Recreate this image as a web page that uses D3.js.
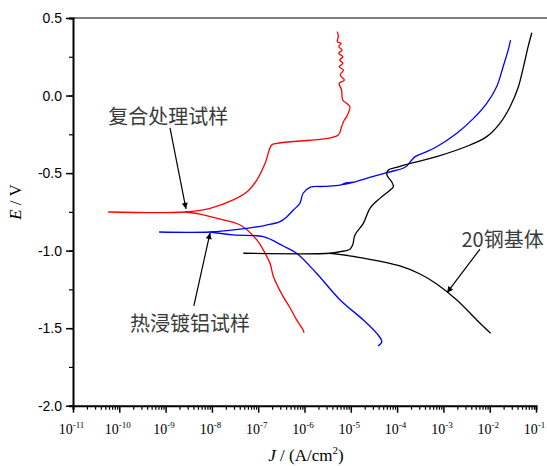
<!DOCTYPE html>
<html>
<head>
<meta charset="utf-8">
<script src="https://cdnjs.cloudflare.com/ajax/libs/d3/7.8.5/d3.min.js"></script>
<style>
body { margin: 0; background: #fff; }
</style>
</head>
<body>
<script>

//Curve data: [log10(J), E]  (J in A/cm2, E in V)
var redAnodic = [[-10.24,-0.751],[-8.58,-0.751],[-8.04,-0.727],[-7.54,-0.673],[-7.22,-0.615],[-7.03,-0.545],[-6.85,-0.437],[-6.71,-0.319],[-6.60,-0.308],[-6.10,-0.293],[-5.665,-0.283],[-5.27,-0.254],[-5.20,-0.201],[-5.14,-0.158],[-5.09,-0.136],[-5.02,-0.072],[-5.09,-0.050],[-5.175,-0.029],[-5.20,0.036],[-5.25,0.079],[-5.14,0.100],[-5.23,0.132],[-5.16,0.165],[-5.25,0.186],[-5.17,0.208],[-5.24,0.229],[-5.17,0.250],[-5.26,0.272],[-5.19,0.294],[-5.26,0.315],[-5.21,0.337],[-5.29,0.347],[-5.27,0.379],[-5.29,0.412]];
var redCathodic = [[-8.58,-0.751],[-8.26,-0.764],[-7.90,-0.791],[-7.39,-0.835],[-7.03,-0.931],[-6.85,-1.017],[-6.745,-1.082],[-6.67,-1.168],[-6.46,-1.297],[-6.31,-1.370],[-6.17,-1.447],[-6.03,-1.512],[-6.01,-1.529]];

var blueAnodic = [[-9.14,-0.880],[-8.04,-0.880],[-7.39,-0.862],[-6.82,-0.835],[-6.53,-0.813],[-6.38,-0.781],[-6.24,-0.738],[-6.10,-0.695],[-6.03,-0.630],[-5.88,-0.592],[-5.56,-0.586],[-5.23,-0.577],[-5.10,-0.564],[-4.95,-0.559],[-5.17,-0.574],[-4.90,-0.556],[-4.66,-0.534],[-4.22,-0.497],[-3.87,-0.469],[-3.79,-0.454],[-3.61,-0.394],[-3.36,-0.362],[-3.145,-0.330],[-2.71,-0.243],[-2.35,-0.147],[-2.065,-0.050],[-1.85,0.057],[-1.71,0.186],[-1.60,0.294],[-1.55,0.358]];
var blueCathodic = [[-8.04,-0.880],[-7.54,-0.899],[-6.89,-0.910],[-6.46,-0.970],[-6.17,-1.017],[-5.74,-1.146],[-5.23,-1.318],[-4.73,-1.447],[-4.44,-1.533],[-4.33,-1.587],[-4.41,-1.615]];

var blackAnodic = [[-7.32,-1.017],[-5.45,-1.017],[-5.23,-1.007],[-5.02,-0.991],[-4.96,-0.964],[-4.91,-0.899],[-4.73,-0.824],[-4.585,-0.727],[-4.37,-0.663],[-4.15,-0.609],[-4.08,-0.588],[-4.12,-0.555],[-4.22,-0.512],[-4.19,-0.480],[-4.01,-0.463],[-3.65,-0.433],[-3.145,-0.394],[-2.425,-0.319],[-2.065,-0.265],[-1.78,-0.179],[-1.56,-0.072],[-1.38,0.057],[-1.27,0.186],[-1.17,0.315],[-1.09,0.405]];
var blackCathodic = [[-5.45,-1.017],[-4.73,-1.048],[-3.94,-1.099],[-3.505,-1.151],[-3.145,-1.215],[-2.71,-1.318],[-2.28,-1.447],[-1.98,-1.533]];

var series = [
    { color: "#ff0000", parts: [redAnodic, redCathodic] },
    { color: "#0000ff", parts: [blueAnodic, blueCathodic] },
    { color: "#000000", parts: [blackAnodic, blackCathodic] }
];

//Annotations: label position (left, baseline) and arrow [from, to], in [log10(J), E]
var labels = ["复合处理试样", "热浸镀铝试样", "20钢基体"];
var labelPos = [[-10.24, -0.183], [-9.77, -1.518], [-2.61, -0.976]];
var arrowFrom = [[-8.905, -0.209], [-8.39, -1.357], [-2.21, -0.990]];
var arrowTo = [[-8.56, -0.731], [-8.04, -0.886], [-2.92, -1.271]];

//Axis ticks
var yTicks = [0.5, 0.0, -0.5, -1.0, -1.5, -2.0];
var xExponents = [-11, -10, -9, -8, -7, -6, -5, -4, -3, -2, -1];

//Width and height
var w = 547;
var h = 466;

var svg = d3.select("body")
            .append("svg")
            .attr("width", w)
            .attr("height", h);

//Scales
var x = d3.scaleLog()
            .domain([1e-11, 1e-1])
            .range([73, 536]);

var y = d3.scaleLinear()
            .domain([-2.0, 0.5])
            .range([405.7, 18]);

var px = function(d) { return x(Math.pow(10, d[0])); };
var py = function(d) { return y(d[1]); };

var line = d3.line()
            .x(px)
            .y(py)
            .curve(d3.curveCatmullRom.alpha(0.5));

//Top frame line
svg.append("line")
    .attr("x1", x.range()[0])
    .attr("x2", w)
    .attr("y1", y(0.5))
    .attr("y2", y(0.5))
    .style("stroke", "#555")
    .style("stroke-width", 1.3);

//Curves
series.forEach(function(s) {
    s.parts.forEach(function(p) {
        svg.append("path")
            .attr("d", line(p))
            .style("fill", "none")
            .style("stroke", s.color)
            .style("stroke-width", 1.3)
            .style("stroke-linejoin", "round");
    });
});

//Y axis, minor then major ticks
var minorY = d3.range(-2.0, 0.51, 0.25);
var yAxis = d3.axisLeft(y)
                .tickValues(minorY)
                .tickSize(4)
                .tickFormat("");
svg.append("g")
    .attr("transform", "translate(" + x.range()[0] + ",0)")
    .call(yAxis)
    .call(function(g) {
        g.select(".domain").style("stroke-width", 2);
        g.selectAll(".tick line").style("stroke-width", 1.2);
    });

var yMajor = d3.axisLeft(y)
                .tickValues(yTicks)
                .tickSize(7)
                .tickPadding(4)
                .tickFormat(function(d) { return d.toFixed(1); });
svg.append("g")
    .attr("transform", "translate(" + x.range()[0] + ",0)")
    .call(yMajor)
    .call(function(g) {
        g.select(".domain").remove();
        g.selectAll(".tick line").style("stroke-width", 1.5);
        g.selectAll("text")
            .style("font-family", "Liberation Sans, Arial, sans-serif")
            .style("font-size", "14px")
            .style("fill", "#000");
    });

//X axis minor ticks
var minorX = [];
xExponents.forEach(function(e) {
    if (e < -1) {
        for (var k = 2; k <= 9; k++) minorX.push(k * Math.pow(10, e));
    }
});
var xMinor = d3.axisBottom(x)
                .tickValues(minorX)
                .tickSize(4)
                .tickFormat("");
svg.append("g")
    .attr("transform", "translate(0," + y.range()[0] + ")")
    .call(xMinor)
    .call(function(g) {
        g.select(".domain").style("stroke-width", 2);
        g.selectAll(".tick line").style("stroke-width", 1.2);
    });

var xMajor = d3.axisBottom(x)
                .tickValues(xExponents.map(function(e) { return Math.pow(10, e); }))
                .tickSize(7)
                .tickFormat("");
var xg = svg.append("g")
    .attr("transform", "translate(0," + y.range()[0] + ")")
    .call(xMajor);
xg.select(".domain").remove();
xg.selectAll(".tick line").style("stroke-width", 1.5);

//X tick labels with superscript exponents
var xl = xg.selectAll(".tick")
    .append("text")
    .attr("y", 28)
    .attr("x", -2)
    .style("font-family", "Liberation Serif, Times New Roman, serif")
    .style("font-size", "14px")
    .style("fill", "#000")
    .attr("text-anchor", "middle");
xl.append("tspan").text("10");
xl.append("tspan")
    .attr("dy", -6)
    .style("font-size", "9px")
    .text(function(d, i) { return xExponents[i]; });

//Axis titles
var yt = svg.append("text")
    .attr("transform", "translate(21," + 202 + ") rotate(-90)")
    .attr("text-anchor", "middle")
    .style("font-family", "Liberation Serif, Times New Roman, serif")
    .style("font-size", "17px");
yt.append("tspan").style("font-style", "italic").text("E");
yt.append("tspan").text(" / V");

var xt = svg.append("text")
    .attr("x", 306)
    .attr("y", 461)
    .attr("text-anchor", "middle")
    .style("font-family", "Liberation Serif, Times New Roman, serif")
    .style("font-size", "17px");
xt.append("tspan").style("font-style", "italic").text("J");
xt.append("tspan").text(" / (A/cm");
xt.append("tspan").attr("dy", -7).style("font-size", "11px").text("2");
xt.append("tspan").attr("dy", 7).text(")");

//Arrowhead marker
svg.append("defs").append("marker")
    .attr("id", "arrow")
    .attr("viewBox", "0 0 10 10")
    .attr("refX", 10)
    .attr("refY", 5)
    .attr("markerWidth", 11)
    .attr("markerHeight", 6)
    .attr("markerUnits", "userSpaceOnUse")
    .attr("orient", "auto")
    .append("path")
    .attr("d", "M0,0 L10,5 L0,10 Z")
    .style("fill", "#000");

//Annotations
labels.forEach(function(t, i) {
    svg.append("text")
        .attr("x", px(labelPos[i]))
        .attr("y", py(labelPos[i]))
        .attr("text-anchor", "start")
        .style("font-family", "Noto Sans CJK SC, sans-serif")
        .style("font-size", "20px")
        .style("fill", "#3a3a3a")
        .text(t);

    svg.append("line")
        .attr("x1", px(arrowFrom[i]))
        .attr("y1", py(arrowFrom[i]))
        .attr("x2", px(arrowTo[i]))
        .attr("y2", py(arrowTo[i]))
        .style("stroke", "#000")
        .style("stroke-width", 1.2)
        .attr("marker-end", "url(#arrow)");
});

</script>
</body>
</html>
